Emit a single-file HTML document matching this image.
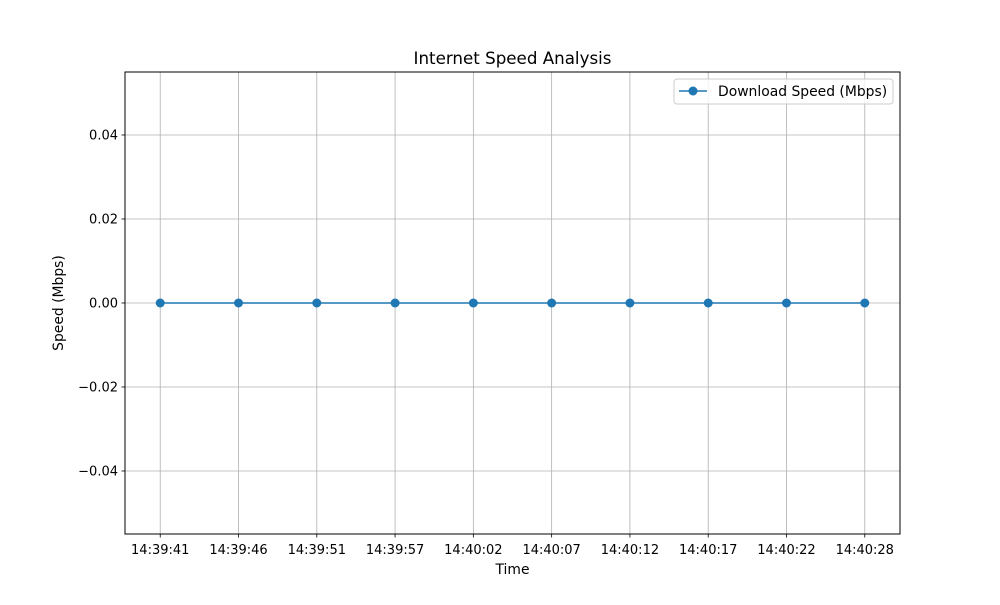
<!DOCTYPE html>
<html><head><meta charset="utf-8"><style>
body{margin:0;background:#fff;}
svg text{font-family:"DejaVu Sans","Liberation Sans",sans-serif;fill:#000;}
</style></head><body>
<svg id="chart" width="1000" height="600">
<rect width="1000" height="600" fill="#fff"/>
<g id="grid"></g>
<g id="xticks"></g>
<g id="yticks"></g>
<g id="series"></g>
<rect x="125" y="72" width="775" height="462" fill="none" stroke="#000" stroke-width="1"/>
<text x="512.5" y="64" font-size="16.7" text-anchor="middle">Internet Speed Analysis</text>
<text x="512.5" y="574" font-size="13.9" text-anchor="middle">Time</text>
<text transform="translate(63,303) rotate(-90)" font-size="13.9" text-anchor="middle">Speed (Mbps)</text>
<g>
<rect x="674" y="79" width="219" height="25" rx="3" fill="#fff" fill-opacity="0.8" stroke="#ccc"/>
<line x1="679" y1="91" x2="707" y2="91" stroke="#1f77b4" stroke-width="1.5"/>
<circle cx="693" cy="91" r="4.5" fill="#1f77b4"/>
<text x="718" y="96" font-size="13.9">Download Speed (Mbps)</text>
</g>
</svg>
<script>
const categories=["14:39:41","14:39:46","14:39:51","14:39:57","14:40:02","14:40:07","14:40:12","14:40:17","14:40:22","14:40:28"];
const speeds=[0,0,0,0,0,0,0,0,0,0];
const yTicks=[-0.04,-0.02,0,0.02,0.04];
const yTickLabels=["\u22120.04","\u22120.02","0.00","0.02","0.04"];
const NS="http://www.w3.org/2000/svg";
const L=125,R=900,T=72,B=534;
const n=categories.length;
const xmin=-0.45,xmax=n-1+0.45,ymin=-0.055,ymax=0.055;
const xs=i=>L+(i-xmin)/(xmax-xmin)*(R-L);
const ys=v=>B-(v-ymin)/(ymax-ymin)*(B-T);
function mk(tag,attrs,parent){const e=document.createElementNS(NS,tag);for(const k in attrs)e.setAttribute(k,attrs[k]);document.getElementById(parent).appendChild(e);return e;}
categories.forEach((c,i)=>{
 const x=xs(i);
 const g=mk("line",{x1:x,x2:x,y1:T,y2:B,stroke:"#b0b0b0","stroke-width":0.8},"grid");
 
 
 const t=mk("line",{x1:x,x2:x,y1:B,y2:B+3.5,stroke:"#000","stroke-width":0.8},"xticks");
 
 
 const tx=mk("text",{x:x,y:B+20,"font-size":13,"text-anchor":"middle"},"xticks");
 tx.textContent=c;
 
 
});
yTicks.forEach((v,i)=>{
 const y=ys(v);
 const g=mk("line",{x1:L,x2:R,y1:y,y2:y,stroke:"#b0b0b0","stroke-width":0.8},"grid");
 
 
 const t=mk("line",{x1:L-3.5,x2:L,y1:y,y2:y,stroke:"#000","stroke-width":0.8},"yticks");
 
 
 const tx=mk("text",{x:L-7,y:y+4.5,"font-size":13,"text-anchor":"end"},"yticks");
 tx.textContent=yTickLabels[i];
 
 
});
const pts=speeds.map((v,i)=>xs(i)+","+ys(v)).join(" ");
const pl=mk("polyline",{points:pts,fill:"none",stroke:"#1f77b4","stroke-width":1.5},"series");


speeds.forEach((v,i)=>{
 const c=mk("circle",{cx:xs(i),cy:ys(v),r:4.5,fill:"#1f77b4"},"series");
 
 
});
</script>
</body></html>
